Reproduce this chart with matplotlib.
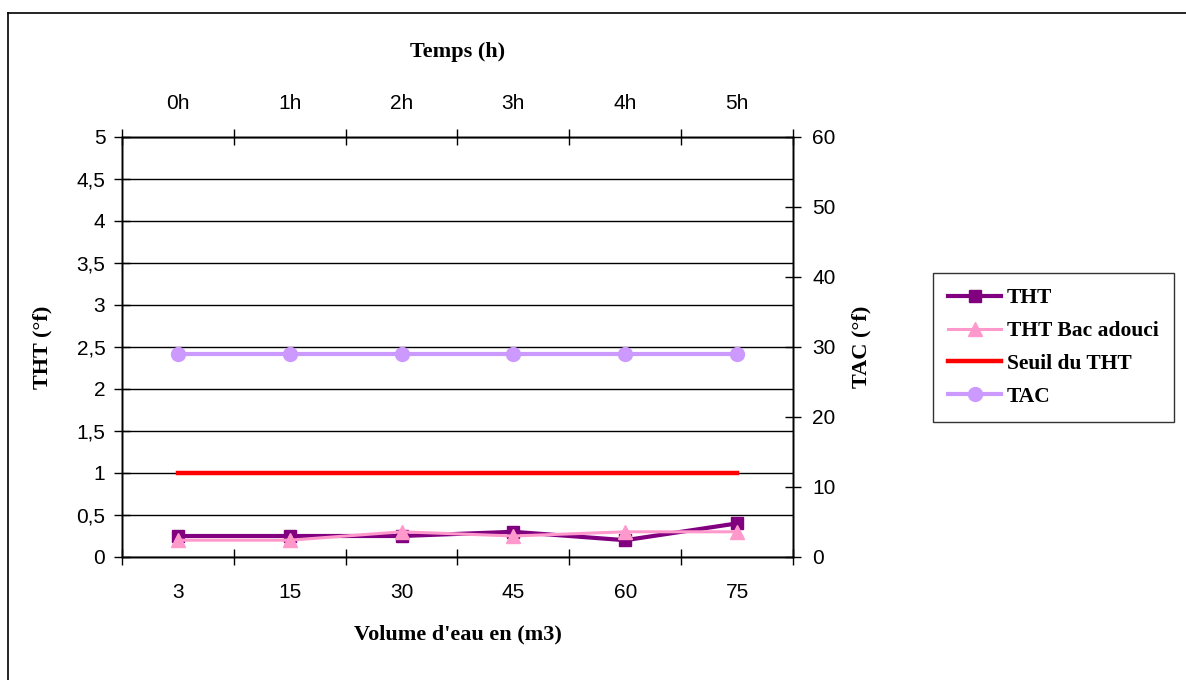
import matplotlib
matplotlib.use("Agg")
import matplotlib.pyplot as plt
from matplotlib.lines import Line2D

volumes = ["3", "15", "30", "45", "60", "75"]
hours = ["0h", "1h", "2h", "3h", "4h", "5h"]
tht = [0.25, 0.25, 0.25, 0.3, 0.2, 0.4]
tht_bac = [0.2, 0.2, 0.3, 0.25, 0.3, 0.3]
seuil = [1, 1, 1, 1, 1, 1]
tac = [29, 29, 29, 29, 29, 29]
left_ticks = [0, 0.5, 1, 1.5, 2, 2.5, 3, 3.5, 4, 4.5, 5]
left_labels = ["0", "0,5", "1", "1,5", "2", "2,5", "3", "3,5", "4", "4,5", "5"]
right_ticks = [0, 10, 20, 30, 40, 50, 60]

W, H = 1186, 680
fig = plt.figure(figsize=(W / 100, H / 100), dpi=100)
sans = ["Liberation Sans", "DejaVu Sans"]
serif = ["Liberation Serif", "DejaVu Serif"]
TFS = 15
LFS = 16

L, R, T, B = 122, 793, 137, 557
ax = fig.add_axes([L / W, 1 - B / H, (R - L) / W, (B - T) / H])
ax2 = ax.twinx()
ax3 = ax.twiny()

x = list(range(len(volumes)))
c_tht = "#800080"
c_bac = "#FF99CC"
c_seuil = "#FF0000"
c_tac = "#CC99FF"

ax.plot(x, seuil, color=c_seuil, lw=3.2, zorder=3)
ax.plot(x, tht, color=c_tht, lw=3, marker="s", ms=8, mec=c_tht, zorder=4)
ax.plot(x, tht_bac, color=c_bac, lw=2.2, marker="^", ms=9.5, mec=c_bac, zorder=5)
ax2.plot(x, tac, color=c_tac, lw=3, marker="o", ms=10, mec=c_tac, zorder=4)

for a in (ax, ax2, ax3):
    a.set_xlim(-0.5, len(volumes) - 0.5)
ax.set_ylim(0, 5)
ax2.set_ylim(0, 60)

ax.set_yticks(left_ticks)
ax.set_yticklabels(left_labels, fontsize=TFS, family=sans)
ax.grid(axis="y", color="black", lw=1)
ax.set_axisbelow(True)
ax2.set_yticks(right_ticks)
ax2.set_yticklabels([str(v) for v in right_ticks], fontsize=TFS, family=sans)

bounds = [i - 0.5 for i in range(len(volumes) + 1)]
for a, labels in ((ax, volumes), (ax3, hours)):
    a.set_xticks(bounds)
    a.set_xticklabels([""] * len(bounds))
    a.set_xticks(x, minor=True)
    a.set_xticklabels(labels, minor=True, fontsize=TFS, family=sans)
    a.tick_params(axis="x", which="major", direction="inout", length=12, width=1)

ax.tick_params(axis="x", which="minor", length=0, pad=19)
ax3.tick_params(axis="x", which="minor", length=0, pad=17.5)
ax.tick_params(axis="y", direction="inout", length=12, width=1, pad=6)
ax2.tick_params(axis="y", direction="inout", length=12, width=1, pad=8)

for a in (ax, ax2, ax3):
    for s in a.spines.values():
        s.set_color("black")
        s.set_linewidth(1)

ax.set_xlabel("Volume d'eau en (m3)", fontsize=LFS, fontweight="bold", family=serif, labelpad=16)
ax3.set_xlabel("Temps (h)", fontsize=LFS, fontweight="bold", family=serif, labelpad=26.5)
ax.set_ylabel("THT (°f)", fontsize=LFS, fontweight="bold", family=serif, labelpad=17.5)
ax2.set_ylabel("TAC (°f)", fontsize=LFS, fontweight="bold", family=serif, labelpad=11)

handles = [
    Line2D([], [], color=c_tht, lw=3, marker="s", ms=8),
    Line2D([], [], color=c_bac, lw=2.2, marker="^", ms=9.5),
    Line2D([], [], color=c_seuil, lw=3.2),
    Line2D([], [], color=c_tac, lw=3, marker="o", ms=10),
]
names = ["THT", "THT Bac adouci", "Seuil du THT", "TAC"]
leg = fig.legend(handles, names, loc="center",
                 bbox_to_anchor=((931 + 1176) / 2 / W, 1 - (272 + 423) / 2 / H),
                 prop={"family": serif, "weight": "bold", "size": 15.5},
                 frameon=True, fancybox=False, edgecolor="black",
                 handlelength=2.46, labelspacing=0.6, borderpad=0.68,
                 handletextpad=0.28, borderaxespad=0)
leg.get_frame().set_linewidth(1)

fig.add_artist(Line2D([8 / W, 8 / W], [0, 1 - 13 / H], color="black", lw=1.2,
                      transform=fig.transFigure))
fig.add_artist(Line2D([8 / W, 1], [1 - 13 / H, 1 - 13 / H], color="black", lw=1.2,
                      transform=fig.transFigure))

fig.savefig("out.png", dpi=100)
